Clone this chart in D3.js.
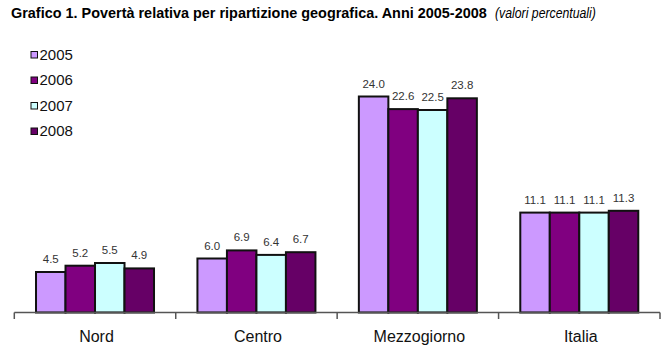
<!DOCTYPE html>
<html>
<head>
<meta charset="utf-8">
<script src="https://cdn.jsdelivr.net/npm/d3@7"></script>
<style>
  body { margin: 0; background: #fff; }
  svg { display: block; }
</style>
</head>
<body>
<div id="chart"></div>
<script>
const categories = ["Nord", "Centro", "Mezzogiorno", "Italia"]
const years = ["2005", "2006", "2007", "2008"]
const values = {
    "2005": [4.5, 6.0, 24.0, 11.1],
    "2006": [5.2, 6.9, 22.6, 11.1],
    "2007": [5.5, 6.4, 22.5, 11.1],
    "2008": [4.9, 6.7, 23.8, 11.3]
}
const colors = ["#cc99ff", "#800080", "#ccffff", "#660066"]

const width = 668, height = 353
const svg = d3.select("#chart").append("svg")
    .attr("width", width)
    .attr("height", height)

// squeeze a text horizontally so it fills the target width (narrow font look)
function condense(sel, x, y, target) {
    let w = sel.node().getComputedTextLength()
    let sx = w > 0 ? target / w : 1
    sel.attr("transform", "translate(" + x + "," + y + ") scale(" + sx.toFixed(4) + ",1)")
}

const titleFont = "'Liberation Sans', Arial, sans-serif"
const t1 = svg.append("text")
    .style("font-family", titleFont)
    .style("font-size", "15.5px")
    .style("font-weight", "bold")
    .style("fill", "#000")
    .text("Grafico 1. Povertà relativa per ripartizione geografica. Anni 2005-2008")
condense(t1, 11, 18, 476)
const t2 = svg.append("text")
    .style("font-family", titleFont)
    .style("font-size", "15.5px")
    .style("font-style", "italic")
    .style("fill", "#000")
    .text("(valori percentuali)")
condense(t2, 495, 18, 101)

const baseY = 312.5
const x0 = d3.scaleBand()
    .domain(categories)
    .range([14.3, 660])
    .padding(0)
const x1 = d3.scaleBand()
    .domain(years)
    .range([0, x0.bandwidth()])
    .paddingInner(0)
    .paddingOuter(0.736)
const y = d3.scaleLinear()
    .domain([0, 24])
    .range([baseY, 96.5])
const color = d3.scaleOrdinal().domain(years).range(colors)

const rows = []
categories.forEach((c, i) => {
    years.forEach((yr) => {
        rows.push({cat: c, year: yr, value: values[yr][i]})
    })
})

svg.append("g").selectAll("rect")
    .data(rows)
    .enter()
    .append("rect")
    .attr("x", (d) => x0(d.cat) + x1(d.year))
    .attr("y", (d) => y(d.value))
    .attr("width", x1.bandwidth())
    .attr("height", (d) => baseY - y(d.value))
    .attr("fill", (d) => color(d.year))
    .attr("stroke", "#111")
    .attr("stroke-width", 2)

svg.append("g").selectAll("text")
    .data(rows)
    .enter()
    .append("text")
    .attr("x", (d) => x0(d.cat) + x1(d.year) + x1.bandwidth() / 2)
    .attr("y", (d) => y(d.value) - 9)
    .attr("text-anchor", "middle")
    .style("font-family", "'Liberation Sans', Arial, sans-serif")
    .style("font-size", "11.5px")
    .style("fill", "#333")
    .text((d) => d.value.toFixed(1))

// category axis
const axis = svg.append("g")
axis.append("line")
    .attr("x1", x0.range()[0])
    .attr("x2", x0.range()[1])
    .attr("y1", baseY)
    .attr("y2", baseY)
    .attr("stroke", "#555")
    .attr("stroke-width", 1.5)
const tickXs = categories.map((c) => x0(c)).concat([x0.range()[1]])
axis.selectAll(".tick")
    .data(tickXs)
    .enter()
    .append("line")
    .attr("class", "tick")
    .attr("x1", (d) => d)
    .attr("x2", (d) => d)
    .attr("y1", baseY)
    .attr("y2", baseY + 6.5)
    .attr("stroke", "#555")
    .attr("stroke-width", 1.5)
axis.selectAll(".catLabel")
    .data(categories)
    .enter()
    .append("text")
    .attr("class", "catLabel")
    .attr("x", (d) => x0(d) + x0.bandwidth() / 2 + 1.5)
    .attr("y", 341.5)
    .attr("text-anchor", "middle")
    .style("font-family", "'Liberation Sans', Arial, sans-serif")
    .style("font-size", "16px")
    .style("fill", "#111")
    .text((d) => d)

// legend
const legend = svg.append("g").selectAll("g")
    .data(years)
    .enter()
    .append("g")
    .attr("transform", (d, i) => "translate(31," + (55 + i * 25.5) + ")")
legend.append("rect")
    .attr("x", 0)
    .attr("y", -3.5)
    .attr("width", 6.5)
    .attr("height", 6.5)
    .attr("fill", (d) => color(d))
    .attr("stroke", "#111")
    .attr("stroke-width", 1)
legend.append("text")
    .attr("x", 8.5)
    .attr("y", 4.5)
    .style("font-family", "'Liberation Sans', Arial, sans-serif")
    .style("font-size", "15px")
    .style("fill", "#111")
    .text((d) => d)
</script>
</body>
</html>
